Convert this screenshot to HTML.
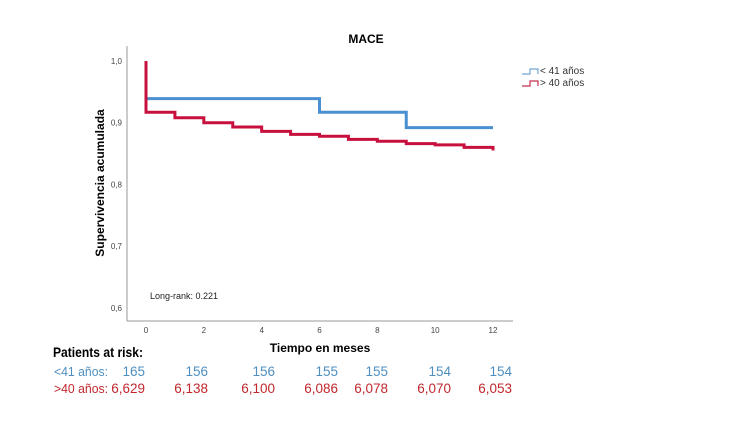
<!DOCTYPE html>
<html><head><meta charset="utf-8"><style>
body{margin:0;background:#fff;width:750px;height:433px;overflow:hidden}
svg{font-family:"Liberation Sans",sans-serif}
</style></head><body>
<svg id="chart" width="750" height="433">
<text x="366" y="43" text-anchor="middle" font-size="12" font-weight="bold">MACE</text>
<line x1="127" y1="46" x2="127" y2="321" stroke="#999"/>
<line x1="127" y1="321" x2="513" y2="321" stroke="#999"/>
<g id="yt"></g><g id="xt"></g><g id="series"></g>
<text transform="translate(104,183) rotate(-90)" text-anchor="middle" font-size="12" font-weight="bold">Supervivencia acumulada</text>
<text x="320" y="352" text-anchor="middle" font-size="12" font-weight="bold">Tiempo en meses</text>
<text x="150" y="299" font-size="9" fill="#222">Long-rank: 0.221</text>
<g>
<path d="M522 74h8v-5h8v5" fill="none" stroke="#6fa8d6" stroke-width="1.2"/>
<text x="540" y="74" font-size="10" fill="#333">&lt; 41 años</text>
<path d="M522 86h8v-5h8v5" fill="none" stroke="#c2304f" stroke-width="1.2"/>
<text x="540" y="86" font-size="10" fill="#333">&gt; 40 años</text>
</g>
<g id="risk">
<text x="53" y="357" font-size="14" font-weight="bold" textLength="90" lengthAdjust="spacingAndGlyphs">Patients at risk:</text>
<text x="54" y="376" font-size="13" fill="#4f8fc0" textLength="54" lengthAdjust="spacingAndGlyphs">&lt;41 años:</text>
<text x="54" y="393" font-size="13" fill="#c0282d" textLength="54" lengthAdjust="spacingAndGlyphs">&gt;40 años:</text>
</g>
</svg>
<script>
const yTicks=[1.0,0.9,0.8,0.7,0.6];
const yTickLabels=["1,0","0,9","0,8","0,7","0,6"];
const xTicks=[0,2,4,6,8,10,12];
const youngTimes=[0,6,9,12];
const youngSurv=[0.939,0.917,0.892,0.892];
const oldTimes=[0,0,1,2,3,4,5,6,7,8,9,10,11,12,12];
const oldSurv=[1.0,0.917,0.908,0.900,0.893,0.886,0.881,0.878,0.873,0.870,0.866,0.864,0.860,0.860,0.855];
const riskYoung=["165","156","156","155","155","154","154"];
const riskOld=["6,629","6,138","6,100","6,086","6,078","6,070","6,053"];
const riskX=[145,208,275,338,388,451,512];
const NS="http://www.w3.org/2000/svg";
const X=t=>146+t*(493-146)/12;
const Y=v=>61+(1-v)*617;
function mk(tag,attrs,parent){const e=document.createElementNS(NS,tag);for(const k in attrs)e.setAttribute(k,attrs[k]);parent.appendChild(e);return e;}
const yt=document.getElementById('yt'),xt=document.getElementById('xt'),sg=document.getElementById('series'),rk=document.getElementById('risk');
yTicks.forEach((v,i)=>{const t=mk('text',{x:122,y:Y(v)+3,'text-anchor':'end','font-size':8,fill:'#444'},yt);t.textContent=yTickLabels[i];

});
xTicks.forEach(v=>{const t=mk('text',{x:X(v),y:333,'text-anchor':'middle','font-size':8,fill:'#444'},xt);t.textContent=v;

});
function step(ts,vs){let d='M'+X(ts[0])+' '+Y(vs[0]);for(let i=1;i<ts.length;i++){d+=' H'+X(ts[i])+' V'+Y(vs[i]);}return d;}
const pY=mk('path',{d:step(youngTimes,youngSurv),fill:'none',stroke:'#4a8fd0','stroke-width':3},sg);


const pO=mk('path',{d:step(oldTimes,oldSurv),fill:'none',stroke:'#c8103e','stroke-width':3},sg);


riskYoung.forEach((v,i)=>{const t=mk('text',{x:riskX[i],y:376,'text-anchor':'end','font-size':13.5,fill:'#4f8fc0'},rk);t.textContent=v;

});
riskOld.forEach((v,i)=>{const t=mk('text',{x:riskX[i],y:393,'text-anchor':'end','font-size':13.5,fill:'#c0282d'},rk);t.textContent=v;

});
</script>
</body></html>
